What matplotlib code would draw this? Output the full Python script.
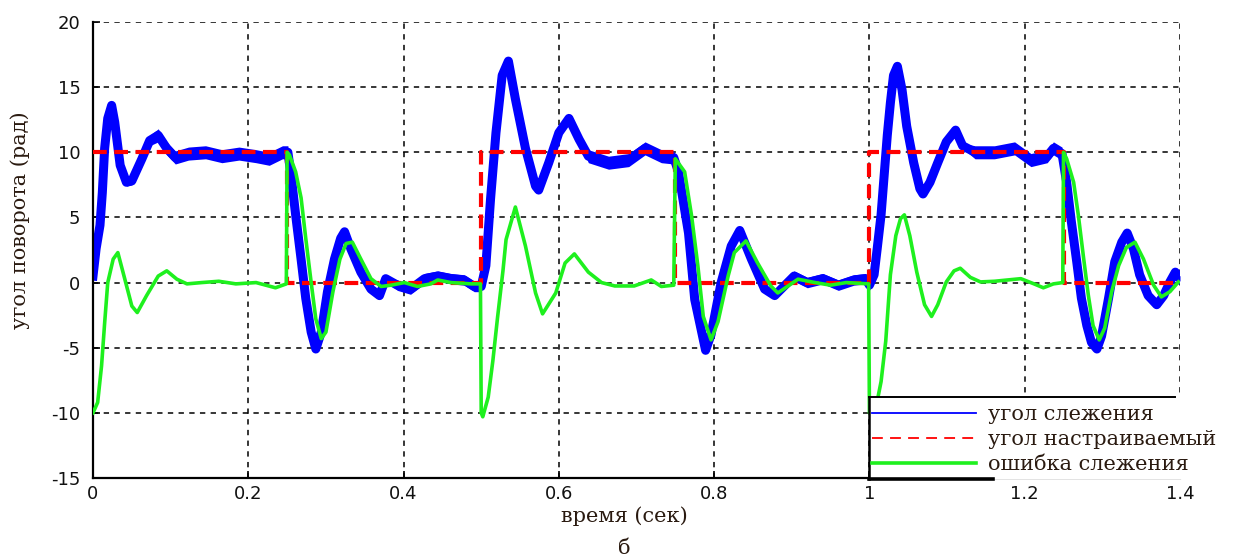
import matplotlib
matplotlib.use('Agg')
import matplotlib.pyplot as plt
from matplotlib.lines import Line2D
from matplotlib.patches import Rectangle
import numpy as np

plt.rcParams['axes.unicode_minus'] = False

# tracking angle (blue)
track_t = [0, 0.004, 0.009, 0.012, 0.015, 0.019, 0.024, 0.028, 0.035, 0.043, 0.050,
           0.063, 0.073, 0.084, 0.095, 0.106, 0.123, 0.145, 0.166, 0.188, 0.21, 0.227,
           0.244, 0.251, 0.255, 0.261, 0.268, 0.274, 0.281, 0.287, 0.294, 0.302, 0.311,
           0.319, 0.324, 0.332, 0.345, 0.358, 0.369, 0.377, 0.392, 0.409, 0.427, 0.444,
           0.461, 0.478, 0.491, 0.5,
           0.506, 0.512, 0.519, 0.527, 0.535, 0.544, 0.557, 0.570, 0.574, 0.587, 0.6,
           0.613, 0.626, 0.638, 0.664, 0.69, 0.711, 0.732, 0.748, 0.754, 0.767, 0.775,
           0.784, 0.789, 0.796, 0.809, 0.822, 0.833, 0.848, 0.865, 0.878, 0.903, 0.92,
           0.94, 0.96, 0.98, 0.995, 1.0,
           1.006, 1.01, 1.015, 1.019, 1.023, 1.027, 1.031, 1.036, 1.042, 1.048, 1.057,
           1.065, 1.069, 1.078, 1.088, 1.099, 1.111, 1.12, 1.136, 1.161, 1.187, 1.208,
           1.229, 1.237, 1.248, 1.254, 1.26, 1.267, 1.273, 1.28, 1.286, 1.293, 1.299,
           1.308, 1.316, 1.325, 1.332, 1.34, 1.348, 1.359, 1.37, 1.379, 1.387, 1.394, 1.4]
track_v = [0.5, 2.6, 4.4, 6.9, 10.3, 12.6, 13.6, 12.3, 9.0, 7.7, 7.8,
           9.5, 10.9, 11.3, 10.3, 9.6, 9.9, 10.0, 9.7, 9.9, 9.7, 9.5,
           10.0, 10.0, 8.3, 5.2, 1.8, -1.2, -3.8, -5.1, -3.8, -0.7, 1.8,
           3.4, 3.9, 2.6, 0.8, -0.5, -1.0, 0.3, -0.2, -0.5, 0.3, 0.5,
           0.3, 0.2, -0.3, -0.3,
           1.3, 6.4, 11.5, 15.9, 17.0, 14.1, 10.3, 7.4, 7.1, 9.2, 11.5,
           12.6, 11.0, 9.7, 9.2, 9.4, 10.3, 9.7, 9.6, 8.5, 3.8, -1.3,
           -3.8, -5.2, -4.0, 0.0, 2.8, 4.0, 1.8, -0.5, -1.0, 0.5, 0.0,
           0.3, -0.2, 0.2, 0.3, -0.2,
           0.6, 2.6, 5.2, 8.2, 11.3, 13.8, 15.9, 16.6, 14.8, 12.0, 9.2,
           7.2, 6.8, 7.7, 9.2, 10.8, 11.7, 10.5, 10.0, 10.0, 10.3, 9.4,
           9.7, 10.3, 9.9, 7.7, 4.7, 1.6, -1.2, -3.3, -4.6, -5.1, -4.1,
           -1.2, 1.6, 3.1, 3.8, 2.6, 0.6, -1.0, -1.7, -1.0, 0.05, 0.8, 0.3]
# half-width of the noisy band around the tracking angle
track_spread = ([0.2] * 9 + [0.3] * 2 + [0.4] * 2 + [0.5] * 11 + [0.2] * 16 + [0.4] * 8 +
                [0.2] * 13 + [0.5] * 6 + [0.2] * 12 + [0.4] * 7 +
                [0.2] * 18 + [0.5] * 7 + [0.2] * 20)

# set-point angle (red, square wave)
ref_t = [0, 0.25, 0.5, 0.75, 1.0, 1.25, 1.4]
ref_v = [10, 0, 10, 0, 10, 0, 0]

# tracking error (green)
err_t = [0, 0.006, 0.011, 0.015, 0.019, 0.026, 0.032, 0.041, 0.050, 0.057, 0.069,
         0.084, 0.095, 0.108, 0.121, 0.14, 0.162, 0.184, 0.21, 0.235, 0.249, 0.25,
         0.253, 0.261, 0.268, 0.274, 0.281, 0.287, 0.294, 0.3, 0.309, 0.318, 0.326,
         0.334, 0.345, 0.358, 0.371, 0.384, 0.401, 0.418, 0.435, 0.444, 0.461, 0.487,
         0.499,
         0.5, 0.502, 0.509, 0.515, 0.521, 0.528, 0.532, 0.544, 0.557, 0.570, 0.579,
         0.596, 0.608, 0.62, 0.638, 0.655, 0.672, 0.697, 0.719, 0.732, 0.748, 0.75,
         0.762, 0.771, 0.779, 0.786, 0.796, 0.805, 0.818, 0.826, 0.841, 0.856, 0.873,
         0.882, 0.908, 0.93, 0.95, 0.97, 0.999,
         1.0, 1.002, 1.01, 1.015, 1.021, 1.027, 1.034, 1.04, 1.045, 1.052, 1.061,
         1.071, 1.08, 1.088, 1.099, 1.109, 1.117, 1.13, 1.143, 1.161, 1.195, 1.212,
         1.224, 1.237, 1.249, 1.25, 1.254, 1.263, 1.269, 1.276, 1.282, 1.288, 1.296,
         1.303, 1.312, 1.321, 1.331, 1.342, 1.353, 1.366, 1.376, 1.387, 1.398]
err_v = [-10, -9.2, -6.4, -3.1, 0, 1.8, 2.3, 0.26, -1.8, -2.3, -1.0,
         0.5, 0.9, 0.26, -0.1, 0, 0.1, -0.1, 0, -0.4, -0.1, 10.0,
         9.8, 8.5, 6.5, 3.4, 0, -2.8, -4.3, -3.8, -0.7, 1.8, 3.0,
         3.1, 1.8, 0.3, -0.3, -0.2, 0, -0.3, -0.1, 0.2, 0, -0.1,
         -0.1,
         -10.0, -10.3, -8.8, -6.0, -2.7, 0.9, 3.3, 5.8, 2.8, -0.8, -2.4,
         -0.8, 1.5, 2.2, 0.8, 0, -0.26, -0.26, 0.2, -0.3, -0.2, 9.5,
         8.5, 5.1, 1.3, -2.6, -4.4, -3.0, 0.5, 2.3, 3.2, 1.5, -0.26,
         -0.8, 0.26, 0.0, -0.2, 0.0, -0.1,
         -10.0, -10.2, -9.1, -7.6, -4.5, 0.6, 3.6, 4.9, 5.2, 3.6, 0.8,
         -1.7, -2.6, -1.7, 0.05, 0.9, 1.1, 0.4, 0.05, 0.1, 0.3, -0.1,
         -0.4, -0.1, 0.0, 10.0, 9.5, 7.7, 5.2, 1.8, -1.0, -3.3, -4.4,
         -3.5, -0.7, 1.3, 2.7, 3.1, 1.8, -0.2, -1.1, -0.7, 0.05]

x_ticks = [0, 0.2, 0.4, 0.6, 0.8, 1.0, 1.2, 1.4]
x_tick_labels = ['0', '0.2', '0.4', '0.6', '0.8', '1', '1.2', '1.4']
y_ticks = [-15, -10, -5, 0, 5, 10, 15, 20]

legend_labels = ['угол слежения', 'угол настраиваемый', 'ошибка слежения']

BLUE = '#0000ff'
RED = '#ff0000'
GREEN = '#1ef01e'
TEXT = '#2a1a10'
W, H = 1244, 560

fig = plt.figure(figsize=(W / 100, H / 100), dpi=100)
ax = fig.add_axes([93 / W, 1 - 478 / H, (1180 - 93) / W, (478 - 22) / H])

tv = np.array(track_v)
sp = np.array(track_spread)
ax.fill_between(track_t, tv - sp, tv + sp, color=BLUE, lw=0, zorder=2)
ax.plot(track_t, track_v, color=BLUE, lw=6.5, solid_joinstyle='round', zorder=2)
ax.plot(ref_t, ref_v, color=RED, lw=3, ls=(0, (3.3, 1.8)), drawstyle='steps-post', zorder=3)
ax.plot(err_t, err_v, color=GREEN, lw=2.6, zorder=4)

ax.set_xlim(0, 1.4)
ax.set_ylim(-15, 20)
ax.set_xticks(x_ticks)
ax.set_xticklabels(x_tick_labels)
ax.set_yticks(y_ticks)
ax.grid(True, color='black', lw=1.1, ls=(0, (3.5, 3.5)))
ax.set_axisbelow(True)
for side in ('top', 'right'):
    ax.spines[side].set_visible(False)
for side in ('left', 'bottom'):
    ax.spines[side].set_linewidth(1.6)
ax.tick_params(direction='in', length=5, width=1.2, labelsize=13)
ax.tick_params(axis='x', pad=5)
ax.tick_params(axis='y', pad=9)
for lab in ax.get_xticklabels() + ax.get_yticklabels():
    lab.set_family('DejaVu Sans')
    lab.set_color('#111111')

serif = dict(family='DejaVu Serif', color=TEXT)
fig.text(20 / W, 1 - 220 / H, 'угол поворота (рад)', rotation=90,
         ha='center', va='center', fontsize=15, **serif)
fig.text(624 / W, 1 - 516 / H, 'время (сек)', ha='center', va='center', fontsize=15, **serif)
fig.text(624 / W, 1 - 548 / H, 'б', ha='center', va='center', fontsize=15, **serif)

# legend: white patch with a partial frame, as in the source figure
tf = fig.transFigure
fig.patches.append(Rectangle((869 / W, 1 - 479 / H), (W - 869) / W, 82 / H,
                             transform=tf, facecolor='white', edgecolor='none', zorder=5))
fig.lines.append(Line2D([869 / W, 1175 / W], [1 - 397 / H] * 2, transform=tf, color='black', lw=1.4, zorder=6))
fig.lines.append(Line2D([869 / W] * 2, [1 - 397 / H, 1 - 479 / H], transform=tf, color='black', lw=1.8, zorder=6))
fig.lines.append(Line2D([869 / W, 993 / W], [1 - 479 / H] * 2, transform=tf, color='black', lw=2.6, zorder=6))

handles = [Line2D([], [], color=BLUE, lw=1.3),
           Line2D([], [], color=RED, lw=1.3, ls=(0, (6, 4))),
           Line2D([], [], color=GREEN, lw=2.6)]
leg = fig.legend(handles, legend_labels, loc='upper left',
                 bbox_to_anchor=(872 / W, 1 - 405 / H), frameon=False,
                 handlelength=5.0, handletextpad=0.55, labelspacing=0.3,
                 borderpad=0.0, borderaxespad=0.0,
                 prop=dict(family='DejaVu Serif', size=15))
leg.set_zorder(7)
for txt in leg.get_texts():
    txt.set_color(TEXT)

fig.savefig('out.png', dpi=100)
